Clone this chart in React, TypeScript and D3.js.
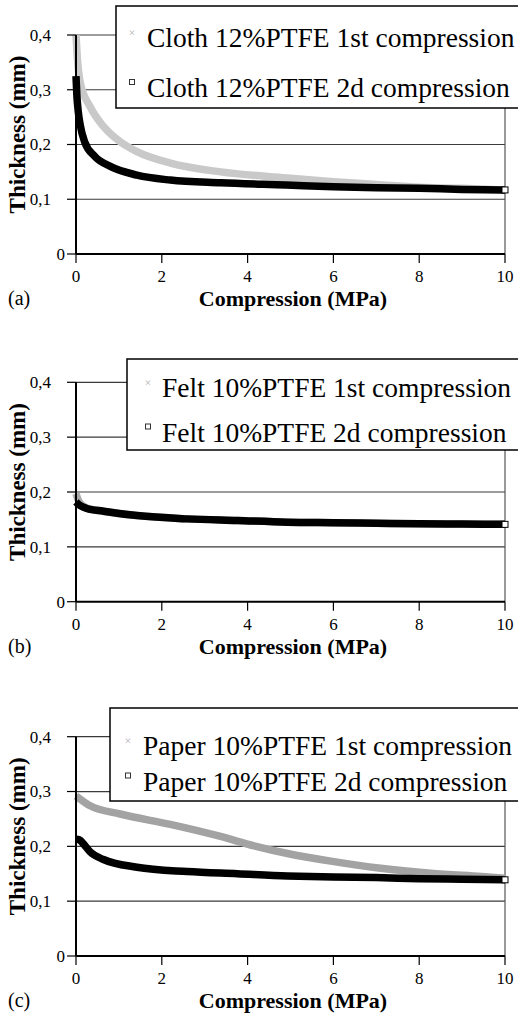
import * as d3 from 'd3'

// axis ticks
const xTicks = [0, 2, 4, 6, 8, 10]
const yTicks = [0, 0.1, 0.2, 0.3, 0.4]
const yTickLabels = ['0', '0,1', '0,2', '0,3', '0,4']

// [compression MPa, thickness mm]
const clothFirst: [number, number][] = [
  [0, 0.4], [0.03, 0.36], [0.1, 0.313], [0.33, 0.269], [0.64, 0.233], [1.03, 0.205],
  [1.42, 0.187], [2.2, 0.166], [3.37, 0.15], [4.9, 0.139], [6, 0.132], [7, 0.127],
  [8, 0.122], [9, 0.12], [10, 0.117],
]
const clothSecond: [number, number][] = [
  [0, 0.325], [0.02, 0.29], [0.05, 0.262], [0.1, 0.235], [0.2, 0.205], [0.44, 0.178],
  [0.8, 0.16], [1.42, 0.144], [2.2, 0.135], [3.37, 0.13], [4.9, 0.126], [6, 0.123],
  [7, 0.121], [8, 0.12], [9, 0.118], [10, 0.117],
]
const feltFirst: [number, number][] = [
  [0, 0.197], [0.05, 0.186], [0.1, 0.179], [0.25, 0.171], [0.64, 0.165], [1.42, 0.157],
  [2.59, 0.151], [3.76, 0.148], [4.93, 0.145], [6, 0.144], [7, 0.143], [8, 0.142],
  [9, 0.1415], [10, 0.141],
]
const feltSecond: [number, number][] = [
  [0, 0.182], [0.05, 0.178], [0.1, 0.175], [0.25, 0.17], [0.64, 0.165], [1.42, 0.157],
  [2.59, 0.151], [3.76, 0.148], [4.93, 0.145], [6, 0.144], [7, 0.143], [8, 0.142],
  [9, 0.1415], [10, 0.141],
]
const paperFirst: [number, number][] = [
  [0, 0.292], [0.33, 0.274], [1.03, 0.259], [2.2, 0.24], [3.37, 0.218],
  [4.15, 0.201], [4.93, 0.187], [5.94, 0.173], [7.1, 0.16], [8.27, 0.151], [9.45, 0.145],
  [10, 0.142],
]
const paperSecond: [number, number][] = [
  [0, 0.213], [0.08, 0.212], [0.17, 0.205], [0.33, 0.19], [0.64, 0.176], [1.42, 0.162],
  [2.59, 0.154], [3.76, 0.15], [4.93, 0.146], [6, 0.144], [7, 0.143], [8, 0.141],
  [9, 0.14], [10, 0.139],
]

const clothLabels = ['Cloth 12%PTFE 1st compression', 'Cloth 12%PTFE 2d compression']
const feltLabels = ['Felt 10%PTFE 1st compression', 'Felt 10%PTFE 2d compression']
const paperLabels = ['Paper 10%PTFE 1st compression', 'Paper 10%PTFE 2d compression']

const panels = [
  {
    tag: '(a)', top: 35, bottom: 254, first: clothFirst, second: clothSecond, grey: '#c9c9c9',
    labels: clothLabels, box: { x: 116, y: 6, h: 102 }, rows: [47, 97], textX: 147, markX: 132,
  },
  {
    tag: '(b)', top: 382.3, bottom: 601.7, first: feltFirst, second: feltSecond, grey: '#ababab',
    labels: feltLabels, box: { x: 127, y: 359, h: 91 }, rows: [396.5, 441.5], textX: 162, markX: 148,
  },
  {
    tag: '(c)', top: 736.7, bottom: 956, first: paperFirst, second: paperSecond, grey: '#a3a3a3',
    labels: paperLabels, box: { x: 110, y: 708, h: 93 }, rows: [755, 790.5], textX: 143, markX: 128,
  },
]

const serif = "'Liberation Serif', 'Times New Roman', Times, serif"

function Panel({ p }: { p: typeof panels[number] }) {
  const x = d3.scaleLinear().domain([0, 10]).range([76, 505])
  const y = d3.scaleLinear().domain([0, 0.4]).range([p.bottom, p.top])
  const line = d3.line<[number, number]>()
    .x(d => x(d[0]))
    .y(d => y(d[1]))
    .curve(d3.curveMonotoneX)
  const last = p.second[p.second.length - 1]
  const midY = (p.top + p.bottom) / 2

  return (
    <g style={{ fontFamily: serif }}>
      {/* gridlines */}
      {yTicks.slice(1).map(t => (
        <line key={t} x1={x(0)} x2={x(10)} y1={y(t)} y2={y(t)} stroke="#3a3a3a" strokeWidth={1.2} />
      ))}
      <line x1={x(10)} x2={x(10)} y1={y(0.4)} y2={y(0)} stroke="#555" strokeWidth={1.2} />

      {/* curves */}
      <path d={line(p.first) ?? ''} fill="none" stroke={p.grey} strokeWidth={7.5} />
      <path d={line(p.second) ?? ''} fill="none" stroke="#000" strokeWidth={7.5} />
      <rect x={x(last[0]) - 3} y={y(last[1]) - 3} width={6} height={6} fill="#fff" stroke="#000" strokeWidth={1} />

      {/* axes */}
      <line x1={x(0)} x2={x(0)} y1={y(0.4)} y2={y(0)} stroke="#000" strokeWidth={2} />
      <line x1={x(0)} x2={x(10)} y1={y(0)} y2={y(0)} stroke="#000" strokeWidth={2} />
      {yTicks.map((t, i) => (
        <g key={t}>
          <line x1={x(0) - 9} x2={x(0)} y1={y(t)} y2={y(t)} stroke="#000" strokeWidth={1.2} />
          <text x={t === 0 ? 65 : 51} y={y(t)} dy="0.35em" textAnchor="end" fontSize={17} style={{ fontFamily: serif }}>{yTickLabels[i]}</text>
        </g>
      ))}
      {xTicks.map(t => (
        <g key={t}>
          <line x1={x(t)} x2={x(t)} y1={y(0)} y2={y(0) + 9} stroke="#000" strokeWidth={1.2} />
          <text x={x(t)} y={y(0) + 28} textAnchor="middle" fontSize={17} style={{ fontFamily: serif }}>{t}</text>
        </g>
      ))}

      {/* titles */}
      <text x={293} y={p.bottom + 52} textAnchor="middle" fontSize={22} fontWeight="bold" style={{ fontFamily: serif }}>Compression (MPa)</text>
      <text transform={`translate(25,${midY - 10}) rotate(-90)`} textAnchor="middle" fontSize={23} fontWeight="bold" style={{ fontFamily: serif }}>Thickness (mm)</text>
      <text x={8} y={p.bottom + 51} fontSize={20} style={{ fontFamily: serif }}>{p.tag}</text>

      {/* legend */}
      <rect x={p.box.x} y={p.box.y} width={420} height={p.box.h} fill="#fff" stroke="#000" strokeWidth={1.5} />
      <text x={p.markX} y={p.rows[0] - 14} dy="0.35em" textAnchor="middle" fontSize={12} fill="#b5b5b5">×</text>
      <rect x={p.markX - 2.5} y={p.rows[1] - 17.5} width={5} height={5} fill="#fff" stroke="#333" strokeWidth={1} />
      {p.labels.map((l, i) => (
        <text key={l} x={p.textX} y={p.rows[i]} fontSize={27.5} style={{ fontFamily: serif }}>{l}</text>
      ))}
    </g>
  )
}

export default function App() {
  return (
    <svg width={518} height={1017} style={{ position: 'absolute', left: 0, top: 0, background: '#fff' }}>
      <rect width={518} height={1017} fill="#fff" />
      {panels.map(p => <Panel key={p.tag} p={p} />)}
    </svg>
  )
}
